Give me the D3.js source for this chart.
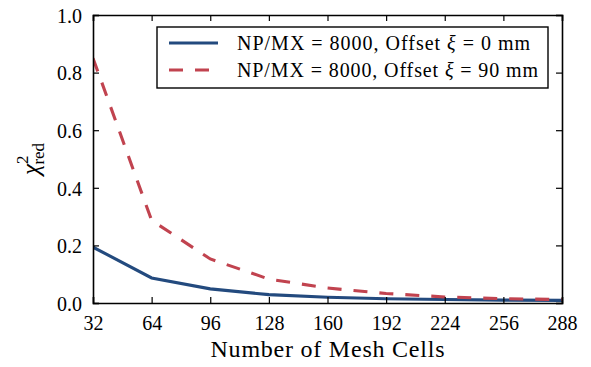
<!DOCTYPE html>
<html><head><meta charset="utf-8">
<script src="https://cdn.jsdelivr.net/npm/d3@7"></script>
<style>body{margin:0;background:#fff}svg{display:block}</style>
</head><body>
<script>
const meshCells = [32, 64, 96, 128, 160, 192, 224, 256, 288];
const chiOffset0 = [0.194, 0.087, 0.049, 0.029, 0.020, 0.015, 0.012, 0.010, 0.009];
const chiOffset90 = [0.850, 0.287, 0.153, 0.083, 0.052, 0.033, 0.021, 0.015, 0.012];
const xTicks = [32, 64, 96, 128, 160, 192, 224, 256, 288];
const yTicks = [0.0, 0.2, 0.4, 0.6, 0.8, 1.0];
const seriesNames = ["NP/MX = 8000, Offset ", "NP/MX = 8000, Offset "];
const seriesOffsets = ["0 mm", "90 mm"];

const FONT = '"Liberation Serif"';
const W = 591, H = 367;
const m = {l: 93, r: 29, t: 15, b: 64};
const svg = d3.select("body").append("svg").attr("width", W).attr("height", H);
const x = d3.scaleLinear().domain([32, 288]).range([m.l, W - m.r]);
const y = d3.scaleLinear().domain([0, 1]).range([H - m.b, m.t]);

const colors = ["#234a7e", "#c1434f"];
const dashes = [null, "14,12"];
const series = [chiOffset0, chiOffset90];
const LW = 3.1;

const line = d3.line().x((d, i) => x(meshCells[i])).y(d => y(d));
svg.append("clipPath").attr("id", "c").append("rect")
  .attr("x", m.l).attr("y", m.t).attr("width", W - m.r - m.l).attr("height", H - m.b - m.t);
series.forEach((s, k) => {
  svg.append("path").datum(s).attr("d", line).attr("fill", "none")
    .attr("stroke", colors[k]).attr("stroke-width", LW)
    .attr("stroke-dasharray", dashes[k]).attr("clip-path", "url(#c)");
});

const fs = 20;
const gB = svg.append("g").attr("transform", `translate(0,${H - m.b})`)
  .call(d3.axisBottom(x).tickValues(xTicks).tickSize(-6).tickPadding(13).tickFormat(d3.format("d")));
const gT = svg.append("g").attr("transform", `translate(0,${m.t})`)
  .call(d3.axisTop(x).tickValues(xTicks).tickSize(-6).tickFormat(""));
const gL = svg.append("g").attr("transform", `translate(${m.l},0)`)
  .call(d3.axisLeft(y).tickValues(yTicks).tickSize(-6).tickPadding(11).tickFormat(d3.format(".1f")));
const gR = svg.append("g").attr("transform", `translate(${W - m.r},0)`)
  .call(d3.axisRight(y).tickValues(yTicks).tickSize(-6).tickFormat(""));
[gB, gT, gL, gR].forEach(g => {
  g.attr("font-family", "Liberation Serif").attr("font-size", fs);
  g.select(".domain").attr("stroke", "#000").attr("stroke-width", 1.6);
  g.selectAll(".tick line").attr("stroke", "#000").attr("stroke-width", 1.2);
  g.selectAll("text").style("font-family", FONT).style("font-size", fs + "px").attr("fill", "#000");
});
gL.selectAll(".tick text").attr("dy", "0.36em");

svg.append("text").attr("x", (m.l + W - m.r) / 2).attr("y", 357).attr("text-anchor", "middle")
  .style("font-family", FONT).style("font-size", "24px").attr("textLength", 234).attr("lengthAdjust", "spacing")
  .text("Number of Mesh Cells");

const yl = svg.append("text").attr("transform", `translate(39,${(m.t + H - m.b) / 2}) rotate(-90)`)
  .attr("text-anchor", "middle").style("font-family", FONT).style("font-size", "25px");
yl.append("tspan").style("font-style", "italic").text("χ");
yl.append("tspan").attr("dy", -11).style("font-size", "17px").text("2");
yl.append("tspan").attr("dx", -9).attr("dy", 16).style("font-size", "17px").text("red");

const lg = svg.append("g");
lg.append("rect").attr("x", 157).attr("y", 27).attr("width", 391).attr("height", 61)
  .attr("fill", "#fff").attr("stroke", "#000").attr("stroke-width", 1.4);
[43, 70].forEach((yy, k) => {
  lg.append("line").attr("x1", 169).attr("x2", 218).attr("y1", yy).attr("y2", yy)
    .attr("stroke", colors[k]).attr("stroke-width", LW).attr("stroke-dasharray", dashes[k]);
  const t = lg.append("text").attr("x", 237).attr("y", yy).attr("dy", "0.35em")
    .style("font-family", FONT).style("font-size", "20px")
    .attr("textLength", k === 0 ? 293 : 301).attr("lengthAdjust", "spacing");
  t.append("tspan").text(seriesNames[k]);
  t.append("tspan").style("font-style", "italic").text("ξ");
  t.append("tspan").text(" = " + seriesOffsets[k]);
});
</script>
</body></html>
